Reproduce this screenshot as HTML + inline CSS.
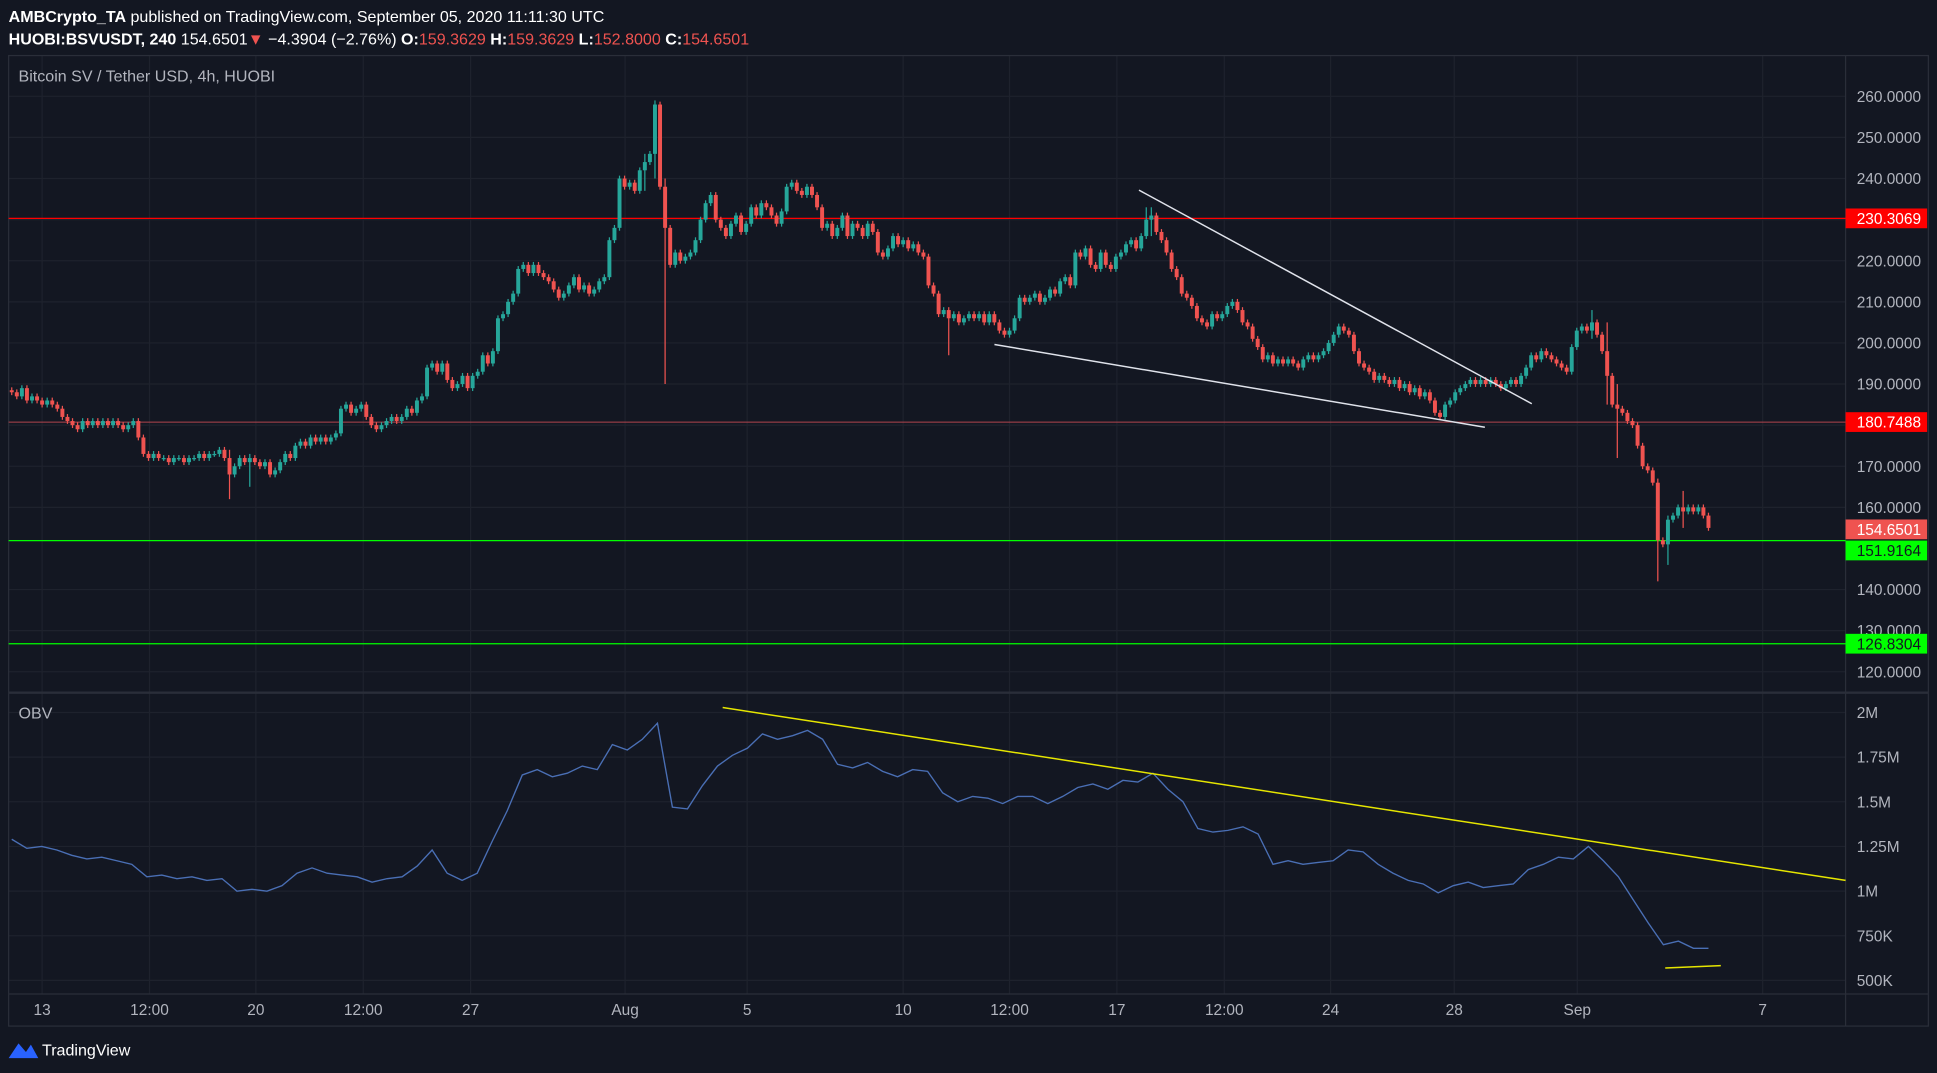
<!DOCTYPE html>
<html><head><meta charset="utf-8">
<style>
html,body{margin:0;padding:0;background:#131722;overflow:hidden}
svg{display:block}
text{font-family:"Liberation Sans",sans-serif}
</style></head>
<body>
<svg id="chart" width="1937" height="1073" viewBox="0 0 1568 869" preserveAspectRatio="none" xmlns="http://www.w3.org/2000/svg">
<rect x="0" y="0" width="1568" height="869" fill="#131722"/>
<g id="grid"></g>
<rect x="7" y="45" width="1554" height="786" fill="none" stroke="#2a2e39" stroke-width="1"/>
<line x1="7" y1="561" x2="1561" y2="561" stroke="#2a2e39" stroke-width="2"/>
<line x1="1494" y1="45" x2="1494" y2="831" stroke="#2a2e39"/>
<line x1="7" y1="805" x2="1561" y2="805" stroke="#2a2e39"/>

<text x="7" y="18" font-size="13" fill="#ffffff"><tspan font-weight="bold">AMBCrypto_TA</tspan> published on TradingView.com, September 05, 2020 11:11:30 UTC</text>
<text x="7" y="36" font-size="13" fill="#ffffff"><tspan font-weight="bold">HUOBI:BSVUSDT, 240</tspan> 154.6501<tspan fill="#ef5350">▼</tspan> −4.3904 (−2.76%) <tspan font-weight="bold">O:</tspan><tspan fill="#ef5350">159.3629</tspan> <tspan font-weight="bold">H:</tspan><tspan fill="#ef5350">159.3629</tspan> <tspan font-weight="bold">L:</tspan><tspan fill="#ef5350">152.8000</tspan> <tspan font-weight="bold">C:</tspan><tspan fill="#ef5350">154.6501</tspan></text>
<text x="15" y="66" font-size="13" fill="#b2b5be">Bitcoin SV / Tether USD, 4h, HUOBI</text>
<text x="15" y="582" font-size="13" fill="#b2b5be">OBV</text>

<g id="hlines"></g>
<g id="candles"></g>
<g id="obvg"></g>

<line x1="922" y1="154" x2="1240" y2="327" stroke="#e0e3eb" stroke-width="1.2"/>
<line x1="805" y1="279" x2="1202" y2="346" stroke="#e0e3eb" stroke-width="1.2"/>
<line x1="585" y1="573" x2="1494" y2="713" stroke="#e6e600" stroke-width="1.2"/>
<line x1="1348" y1="784" x2="1393" y2="782" stroke="#e6e600" stroke-width="1.2"/>

<g id="axes"></g>
<g>
<path d="M7 857 L15 845 L21 852 L25 846 L31 857 Z" fill="#2962ff"/>
<text x="34" y="855" font-size="13" fill="#ffffff">TradingView</text>
</g>
</svg>
<script>
const closes=[188,187,189,186,187,186,185,186,185,184,
182,181,180,179,181,180,181,180,181,180,
181,180,179,180,181,177,173,172,173,172,
172,171,172,172,171,172,172,173,172,173,
173,174,172,168,170,172,171,172,171,170,
171,168,169,171,173,172,175,176,175,177,
176,177,176,177,178,184,185,183,184,185,
182,180,179,180,181,182,181,182,184,183,
186,187,194,195,193,195,191,189,190,192,
189,192,193,197,195,198,206,207,210,212,
218,219,217,219,217,216,215,213,211,212,
214,216,213,214,212,213,215,216,225,228,
240,238,239,237,242,244,246,258,238,228,
219,222,220,221,222,225,230,234,236,230,
228,226,229,231,227,229,233,231,234,233,
231,229,232,238,239,237,236,238,236,233,
228,229,226,228,231,226,229,228,226,229,
227,222,221,223,226,224,225,223,224,222,
221,214,212,207,208,206,207,205,206,207,
206,207,205,207,205,203,202,203,206,211,
210,211,212,210,211,213,212,215,216,214,
222,221,223,219,218,222,219,218,221,222,
224,225,223,226,230,231,227,225,222,218,
216,212,211,209,206,205,204,207,206,207,
209,210,208,205,204,201,199,196,197,195,
196,195,196,195,194,196,197,196,197,198,
200,202,204,203,202,198,195,194,193,191,
192,191,190,191,189,190,188,189,187,188,
186,183,182,185,186,188,189,190,191,190,
191,190,191,190,189,190,191,190,192,194,
197,196,198,197,196,195,194,193,199,203,
204,203,205,202,198,192,185,184,183,181,
180,175,170,169,166,152,151,157,158,160,
159,160,159,160,158,155];
const firstOpen=188.5;
// notable wick extremes: [index, high, low]
const wicks=[[43,174,162],[47,173,165],[127,259,240],[129,240,190],[125,246,237],[224,233,228],[317,190,172],[312,208,201],[315,205,185],[325,167,142],[327,158,146],[330,164,155],[185,208,197],[225,233,226]];
const obv=[1290,1240,1250,1230,1200,1180,1190,1170,1150,1080,1090,1070,1080,1060,1070,1000,1010,1000,1030,1100,1130,1100,1090,1080,1050,1070,1080,1140,1230,1100,1060,1100,1280,1450,1650,1680,1640,1660,1700,1680,1820,1790,1850,1940,1470,1460,1590,1700,1760,1800,1880,1850,1870,1900,1850,1710,1690,1720,1670,1640,1680,1670,1550,1500,1530,1520,1490,1530,1530,1490,1530,1580,1600,1570,1620,1610,1660,1570,1500,1350,1330,1340,1360,1320,1150,1170,1150,1160,1170,1230,1220,1150,1100,1060,1040,990,1030,1050,1020,1030,1040,1120,1150,1190,1180,1250,1170,1080,950,820,700,720,680,680];
const priceTicks=[260,250,240,230,220,210,200,190,180,170,160,140,130,120];
const obvTicks=[2000,1750,1500,1250,1000,750,500];
const obvTickLabels=["2M","1.75M","1.5M","1.25M","1M","750K","500K"];
const timeLabels=["13","12:00","20","12:00","27","Aug","5","10","12:00","17","12:00","24","28","Sep","7"];
const timeIdx=[6,27.2,48.2,69.4,90.6,121.1,145.2,176,197,218.2,239.4,260.4,284.8,309.1,345.7];
const levels=[230.3069,180.7488,151.9164,126.8304];
const levelColors=["#ff0000","#b2444e","#00ff00","#00ff00"];

const NS="http://www.w3.org/2000/svg";
const yP=p=>78+(260-p)*3.329;
const yO=v=>577+(2000-v)/250*36.17;
const xI=i=>9.5+i*4.1;
function mk(t,a,parent){const e=document.createElementNS(NS,t);for(const k in a)e.setAttribute(k,a[k]);document.getElementById(parent).appendChild(e);return e;}

priceTicks.forEach(p=>{const l=mk('line',{x1:7,x2:1494,y1:yP(p),y2:yP(p),stroke:'#1e222d'},'grid');

});
obvTicks.forEach(v=>{const l=mk('line',{x1:7,x2:1494,y1:yO(v),y2:yO(v),stroke:'#1e222d'},'grid');

});
timeIdx.forEach(i=>{const l=mk('line',{x1:xI(i),x2:xI(i),y1:45,y2:805,stroke:'#1e222d'},'grid');

});

levels.forEach((lv,k)=>{const l=mk('line',{x1:7,x2:1494,y1:yP(lv),y2:yP(lv),stroke:levelColors[k],'stroke-width':k==1?0.8:1},'hlines');

});

const wmap={};wicks.forEach(w=>wmap[w[0]]=w);
closes.forEach((c,i)=>{
 const o=i?closes[i-1]:firstOpen;const up=c>=o;const col=up?'#26a69a':'#ef5350';
 let hi=Math.max(o,c)+0.7,lo=Math.min(o,c)-0.7;
 if(wmap[i]){hi=Math.max(hi,wmap[i][1]);lo=Math.min(lo,wmap[i][2]);}
 const x=xI(i);
 const w=mk('line',{x1:x,x2:x,y1:yP(hi),y2:yP(lo),stroke:col,'stroke-width':1},'candles');
 
 
 const top=yP(Math.max(o,c)),h=Math.max(1,yP(Math.min(o,c))-top);
 const b=mk('rect',{x:x-1.6,y:top,width:3.2,height:h,fill:col},'candles');
 
 
});

const step=(xI(closes.length-1)-xI(0))/(obv.length-1);
const pts=obv.map((v,i)=>(xI(0)+i*step).toFixed(1)+','+yO(v).toFixed(1)).join(' ');
const pl=mk('polyline',{points:pts,fill:'none',stroke:'#4a6fb5','stroke-width':1.1},'obvg');



priceTicks.forEach(p=>{const t=mk('text',{x:1503,y:yP(p)+4.5,'font-size':12.5,fill:'#b2b5be'},'axes');t.textContent=p.toFixed(4);

});
obvTicks.forEach((v,k)=>{const t=mk('text',{x:1503,y:yO(v)+4.5,'font-size':12.5,fill:'#b2b5be'},'axes');t.textContent=obvTickLabels[k];

});
timeIdx.forEach((i,k)=>{const t=mk('text',{x:xI(i),y:822,'font-size':12.5,fill:'#b2b5be','text-anchor':'middle'},'axes');t.textContent=timeLabels[k];

});

function tag(val,bg,fg,dy){const y=yP(val)+(dy||0);
 const r=mk('rect',{x:1494,y:y-8,width:66,height:16,fill:bg},'axes');
 
 
 const t=mk('text',{x:1503,y:y+4.5,'font-size':12.5,fill:fg},'axes');t.textContent=val.toFixed(4);
 
 }
tag(levels[0],'#ff0000','#ffffff');
tag(levels[1],'#ff0000','#ffffff');
tag(154.6501,'#ef5350','#ffffff');
tag(levels[2],'#00ff00','#131722',8);
tag(levels[3],'#00ff00','#131722');
</script>
</body></html>
